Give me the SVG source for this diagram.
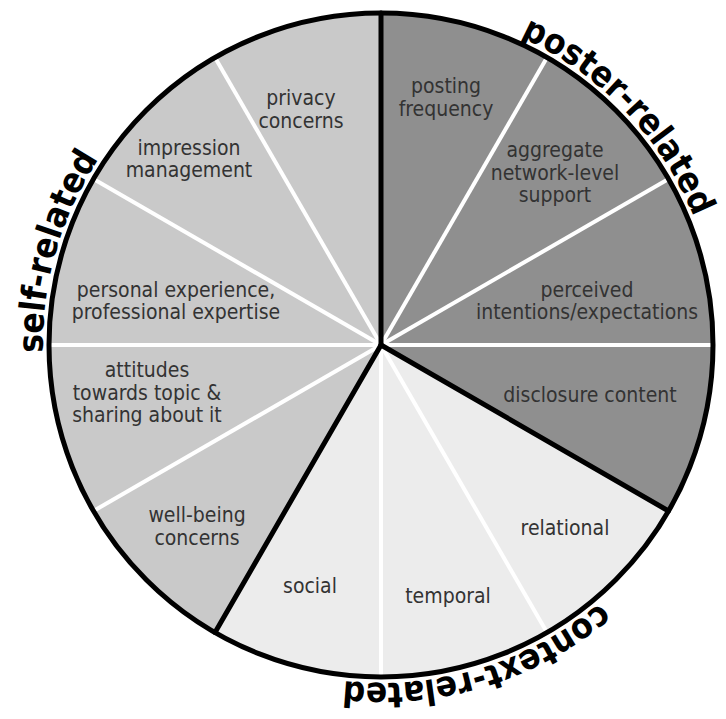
<svg xmlns="http://www.w3.org/2000/svg" width="726" height="719" viewBox="0 0 726 719">
<defs>
<style>
.poster{fill:#8f8f8f}
.self{fill:#c9c9c9}
.context{fill:#ececec}
.lbl{font-family:"DejaVu Sans Condensed","DejaVu Sans","Liberation Sans",sans-serif;font-stretch:condensed;font-size:21px;fill:#333;text-anchor:middle}
.sep{stroke:#fff;stroke-width:4}
.grp{stroke:#000;stroke-width:5;stroke-linecap:round}
.title{font-family:"DejaVu Sans Condensed","DejaVu Sans","Liberation Sans",sans-serif;font-stretch:condensed;font-size:35px;font-weight:bold;fill:#000;text-anchor:middle}
</style>
<path id="arc" d="M381,7 A338,338 0 1 1 381,683 A338,338 0 1 1 381,7"/>
</defs>
<rect width="726" height="719" fill="#fff"/>
<g id="slice-posting-frequency">
<path class="poster" d="M381,345 L381,13 A332,332 0 0 1 547,57.5 Z"/>
<text class="lbl"><tspan x="446" y="93">posting</tspan><tspan x="446" y="116">frequency</tspan></text>
</g>
<g id="slice-aggregate-support">
<path class="poster" d="M381,345 L547,57.5 A332,332 0 0 1 668.5,179 Z"/>
<text class="lbl"><tspan x="555" y="157">aggregate</tspan><tspan x="555" y="180">network-level</tspan><tspan x="555" y="202">support</tspan></text>
</g>
<g id="slice-perceived-intentions">
<path class="poster" d="M381,345 L668.5,179 A332,332 0 0 1 713,345 Z"/>
<text class="lbl"><tspan x="587" y="297">perceived</tspan><tspan x="587" y="319">intentions/expectations</tspan></text>
</g>
<g id="slice-disclosure-content">
<path class="poster" d="M381,345 L713,345 A332,332 0 0 1 668.5,511 Z"/>
<text class="lbl"><tspan x="590" y="402">disclosure content</tspan></text>
</g>
<g id="slice-relational">
<path class="context" d="M381,345 L668.5,511 A332,332 0 0 1 547,632.5 Z"/>
<text class="lbl"><tspan x="565" y="535">relational</tspan></text>
</g>
<g id="slice-temporal">
<path class="context" d="M381,345 L547,632.5 A332,332 0 0 1 381,677 Z"/>
<text class="lbl"><tspan x="448" y="603">temporal</tspan></text>
</g>
<g id="slice-social">
<path class="context" d="M381,345 L381,677 A332,332 0 0 1 215,632.5 Z"/>
<text class="lbl"><tspan x="310" y="593">social</tspan></text>
</g>
<g id="slice-well-being">
<path class="self" d="M381,345 L215,632.5 A332,332 0 0 1 93.5,511 Z"/>
<text class="lbl"><tspan x="197" y="522">well-being</tspan><tspan x="197" y="545">concerns</tspan></text>
</g>
<g id="slice-attitudes">
<path class="self" d="M381,345 L93.5,511 A332,332 0 0 1 49,345 Z"/>
<text class="lbl"><tspan x="147" y="377">attitudes</tspan><tspan x="147" y="400">towards topic &amp;</tspan><tspan x="147" y="422">sharing about it</tspan></text>
</g>
<g id="slice-personal-experience">
<path class="self" d="M381,345 L49,345 A332,332 0 0 1 93.5,179 Z"/>
<text class="lbl"><tspan x="176" y="297">personal experience,</tspan><tspan x="176" y="319">professional expertise</tspan></text>
</g>
<g id="slice-impression-management">
<path class="self" d="M381,345 L93.5,179 A332,332 0 0 1 215,57.5 Z"/>
<text class="lbl"><tspan x="189" y="155">impression</tspan><tspan x="189" y="177">management</tspan></text>
</g>
<g id="slice-privacy-concerns">
<path class="self" d="M381,345 L215,57.5 A332,332 0 0 1 381,13 Z"/>
<text class="lbl"><tspan x="301" y="105">privacy</tspan><tspan x="301" y="128">concerns</tspan></text>
</g>
<g id="connectors">
<line class="sep" x1="381" y1="345" x2="547" y2="57.5"/>
<line class="sep" x1="381" y1="345" x2="668.5" y2="179"/>
<line class="sep" x1="381" y1="345" x2="713" y2="345"/>
<line class="sep" x1="381" y1="345" x2="547" y2="632.5"/>
<line class="sep" x1="381" y1="345" x2="381" y2="677"/>
<line class="sep" x1="381" y1="345" x2="93.5" y2="511"/>
<line class="sep" x1="381" y1="345" x2="49" y2="345"/>
<line class="sep" x1="381" y1="345" x2="93.5" y2="179"/>
<line class="sep" x1="381" y1="345" x2="215" y2="57.5"/>
<line class="grp" x1="381" y1="345" x2="381" y2="13"/>
<line class="grp" x1="381" y1="345" x2="668.5" y2="511"/>
<line class="grp" x1="381" y1="345" x2="215" y2="632.5"/>
<circle cx="381" cy="345" r="332" fill="none" stroke="#000" stroke-width="5"/>
</g>
<g id="group-labels">
<text class="title"><textPath href="#arc" startOffset="271.4">poster-related</textPath></text>
<text class="title"><textPath href="#arc" startOffset="961.6">context-related</textPath></text>
<text class="title"><textPath href="#arc" startOffset="1687.2">self-related</textPath></text>
</g>
</svg>
